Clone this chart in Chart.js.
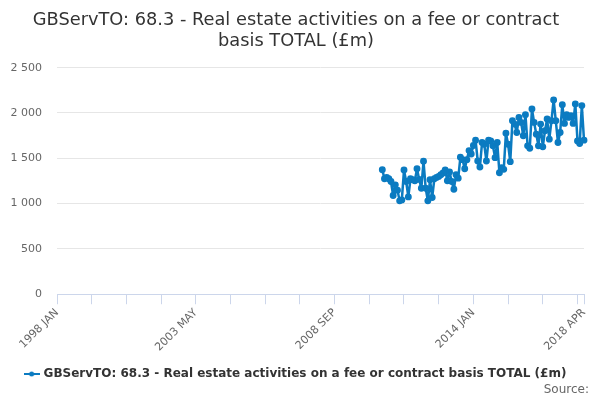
<!DOCTYPE html>
<html>
<head>
<meta charset="utf-8">
<script src="https://cdn.jsdelivr.net/npm/chart.js@4.4.0/dist/chart.umd.min.js"></script>
<style>
  html, body { margin: 0; padding: 0; background: #fff; }
  #wrap { width: 600px; height: 400px; }
</style>
</head>
<body>
<div id="wrap"><canvas id="chart"></canvas></div>
<script>
// Monthly axis 1998 JAN .. 2018 APR, series starts 2010 JUL.
const monthNames = ["JAN", "FEB", "MAR", "APR", "MAY", "JUN", "JUL", "AUG", "SEP", "OCT", "NOV", "DEC"];
const firstYear = 1998;
const monthCount = 244;
const seriesStart = 150; // 2010 JUL

const values = [
  1374, 1274, 1289, 1274, 1244, 1089, 1207, 1148, 1030, 1041,
  1370, 1244, 1074, 1274, 1263, 1252, 1385, 1267, 1170, 1467,
  1170, 1030, 1263, 1067, 1274, 1289, 1300, 1319, 1337, 1370,
  1252, 1348, 1244, 1159, 1319, 1281, 1511, 1485, 1385, 1485,
  1585, 1548, 1641,
  1700, 1470, 1404, 1674, 1655, 1470, 1700, 1692, 1637, 1507,
  1674, 1341, 1396, 1378, 1777, 1655, 1463, 1914, 1877, 1785,
  1951, 1896, 1748, 1981, 1637, 1611, 2044, 1896, 1766, 1637,
  1877, 1626, 1803, 1933, 1711, 1914, 2144, 1914, 1674, 1785,
  2092, 1885, 1981, 1951, 1970, 1885, 2100, 1692, 1663, 2081,
  1700
];

const labels = [];
for (let i = 0; i < monthCount; i++) {
  labels.push((firstYear + Math.floor(i / 12)) + " " + monthNames[i % 12]);
}

const lineColor = "#0b7bc1";
const font = "'DejaVu Sans', Verdana, sans-serif";

// legend symbol: short line with a dot, like the original
function legendSymbol() {
  const c = document.createElement("canvas");
  c.width = 16; c.height = 8;
  const g = c.getContext("2d");
  g.strokeStyle = lineColor; g.lineWidth = 2;
  g.beginPath(); g.moveTo(0, 4); g.lineTo(16, 4); g.stroke();
  g.fillStyle = lineColor;
  g.beginPath(); g.arc(8, 4, 2.5, 0, Math.PI * 2); g.fill();
  return c;
}

function thousands(v) {
  return String(v).replace(/\B(?=(\d{3})+(?!\d))/g, " ");
}

// "Source:" credit in the bottom right corner
const sourceText = {
  id: "sourceText",
  afterDraw(chart) {
    const ctx = chart.ctx;
    ctx.save();
    ctx.font = "12px " + font;
    ctx.fillStyle = "#666666";
    ctx.textAlign = "right";
    ctx.textBaseline = "middle";
    ctx.fillText("Source:", 589, 390);
    ctx.restore();
  }
};

new Chart(document.getElementById("chart"), {
  type: "line",
  data: {
    labels,
    datasets: [{
      label: "GBServTO: 68.3 - Real estate activities on a fee or contract basis TOTAL (£m)",
      data: values.map((v, i) => ({ x: labels[seriesStart + i], y: v })),
      borderColor: lineColor,
      backgroundColor: lineColor,
      borderWidth: 2.5,
      borderJoinStyle: "round",
      pointRadius: 2.2,
      pointHoverRadius: 3,
      pointStyle: "circle",
      tension: 0
    }]
  },
  options: {
    responsive: true,
    maintainAspectRatio: false,
    animation: false,
    layout: { padding: { left: 8, right: 16, top: 6, bottom: 10 } },
    plugins: {
      title: {
        display: true,
        text: ["GBServTO: 68.3 - Real estate activities on a fee or contract", "basis TOTAL (£m)"],
        color: "#333333",
        font: { family: font, size: 17.8, weight: "normal", lineHeight: 1.17 },
        padding: { top: 4, bottom: 16 }
      },
      legend: {
        position: "bottom",
        labels: {
          usePointStyle: true,
          pointStyle: legendSymbol(),
          color: "#333333",
          font: { family: font, size: 12, weight: "bold" },
          padding: 12
        }
      },
      tooltip: { enabled: false }
    },
    scales: {
      x: {
        type: "category",
        offset: false,
        grid: { drawOnChartArea: false, drawTicks: true, tickLength: 10, color: "#ccd6eb" },
        border: { color: "#ccd6eb" },
        ticks: {
          autoSkip: false,
          maxRotation: 45,
          minRotation: 45,
          padding: 2,
          color: "#666666",
          font: { family: font, size: 11 },
          callback: (val, idx) => {
            if (idx % 64 === 0 || idx === monthCount - 1) return labels[idx];
            if (idx % 16 === 0) return "";
            return null;
          }
        }
      },
      y: {
        min: 0,
        max: 2500,
        afterFit: (scale) => { scale.width = 49; },
        grid: { color: "#e6e6e6", drawTicks: false },
        border: { display: false },
        ticks: {
          stepSize: 500,
          padding: 15,
          color: "#666666",
          font: { family: font, size: 11 },
          callback: (v) => thousands(v)
        }
      }
    }
  },
  plugins: [sourceText]
});
</script>
</body>
</html>
